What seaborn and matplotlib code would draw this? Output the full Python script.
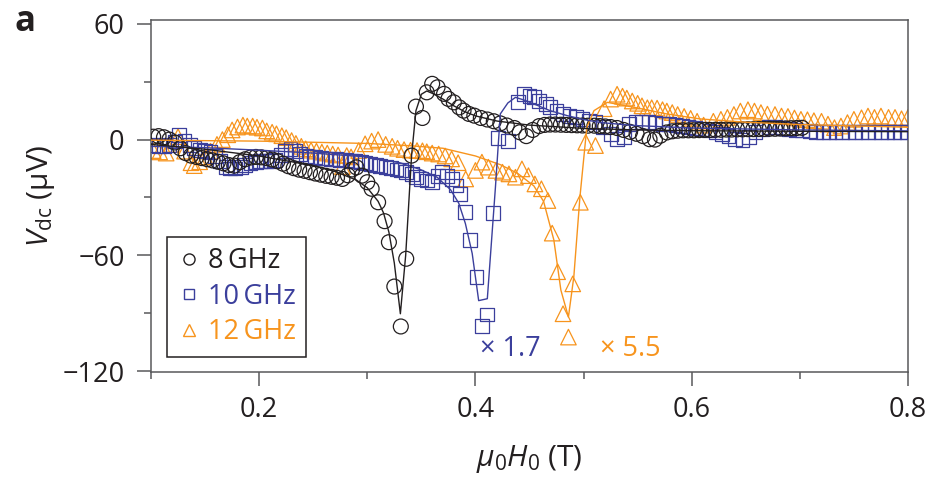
import numpy as np
import pandas as pd
import matplotlib
matplotlib.use("Agg")
import matplotlib.pyplot as plt
from matplotlib.lines import Line2D
from matplotlib.ticker import FixedLocator, MultipleLocator
import seaborn as sns

# ---------------- data ----------------
c8_x = [0.102,0.107,0.112,0.117,0.122,0.127,0.132,0.137,0.142,0.147,
        0.152,0.157,0.162,0.167,0.172,0.177,0.182,0.187,0.192,0.197,
        0.202,0.207,0.212,0.217,0.222,0.227,0.232,0.237,0.242,0.247,
        0.252,0.257,0.262,0.267,0.272,0.277,0.282,0.286,0.290,0.295,
        0.300,0.304,0.310,0.316,0.320,0.325,0.331,0.336,0.341,0.345,
        0.351,0.355,0.360,0.365,0.371,0.375,0.380,0.385,0.389,0.394,
        0.399,0.405,0.411,0.417,0.423,0.429,0.436,0.441,0.447,0.453,
        0.459,0.464,0.469,0.474,0.479,0.484,0.489,0.494,0.499,0.504,
        0.510,0.515,0.520,0.525,0.531,0.537,0.543,0.549,0.555,0.561,
        0.566,0.571,0.577,0.582,0.587,0.592,0.597,0.602,0.607,0.612,
        0.617,0.622,0.627,0.632,0.637,0.642,0.647,0.652,0.657,0.662,
        0.667,0.672,0.677,0.682,0.687,0.692,0.697,0.702]
c8_y = [1.5,1.8,1.2,0.0,-1.5,-4.5,-7.0,-8.3,-9.0,-9.6,
        -10.2,-10.8,-11.5,-12.3,-13.2,-13.5,-11.7,-10.2,-9.3,-9.0,
        -9.2,-9.6,-10.3,-11.2,-12.5,-13.8,-14.8,-15.6,-16.2,-16.9,
        -17.6,-18.2,-18.8,-19.3,-19.8,-20.4,-18.5,-15.5,-14.4,-18.7,
        -22.1,-25.5,-32.5,-42.3,-53.2,-76.2,-96.9,-61.8,-8.3,17.1,
        11.2,24.5,28.9,27.1,23.7,21.1,19.3,16.7,15.0,13.3,
        12.4,11.2,10.4,9.5,8.4,7.3,6.0,3.8,1.8,5.0,
        7.0,7.6,7.8,7.8,7.7,7.6,7.5,7.4,7.3,7.2,
        7.2,7.0,6.8,6.5,6.0,5.0,4.0,3.0,1.8,0.2,
        0.0,2.0,3.7,4.3,4.6,4.8,4.8,4.8,4.9,5.0,
        5.0,5.1,5.1,5.2,5.2,5.3,5.3,5.4,5.4,5.5,
        5.5,5.6,5.6,5.7,5.8,5.9,6.0,6.1]

c10_x = [0.102,0.107,0.112,0.117,0.122,0.126,0.131,0.136,0.140,0.145,
         0.150,0.155,0.159,0.164,0.169,0.173,0.178,0.183,0.187,0.192,
         0.197,0.201,0.206,0.211,0.215,0.220,0.224,0.229,0.233,0.238,
         0.243,0.247,0.252,0.257,0.261,0.266,0.271,0.275,0.280,0.285,
         0.289,0.294,0.298,0.303,0.308,0.312,0.317,0.322,0.327,0.331,
         0.336,0.341,0.345,0.350,0.355,0.360,0.365,0.369,0.374,0.378,
         0.382,0.386,0.390,0.395,0.401,0.406,0.411,0.416,0.421,0.430,
         0.439,0.445,0.450,0.454,0.459,0.465,0.469,0.475,0.481,0.487,
         0.493,0.499,0.505,0.511,0.518,0.525,0.531,0.537,0.542,0.548,
         0.554,0.560,0.566,0.573,0.579,0.585,0.591,0.597,0.603,0.609,
         0.616,0.622,0.628,0.634,0.640,0.647,0.653,0.659,0.665,0.671,
         0.677,0.684,0.690,0.696,0.702,0.709,0.715,0.721,0.727,0.733,
         0.739,0.745,0.751,0.757,0.763,0.769,0.775,0.781,0.787,0.793,0.799]
c10_y = [-3.0,-3.5,-3.5,-3.0,-1.0,2.5,-0.5,-3.0,-4.5,-5.5,
         -6.0,-6.5,-8.3,-11.0,-14.0,-15.0,-15.0,-14.0,-13.0,-12.0,
         -11.5,-11.0,-11.2,-11.0,-10.5,-8.0,-5.7,-4.8,-5.7,-7.4,
         -8.3,-9.0,-9.2,-9.5,-9.8,-10.0,-10.2,-10.4,-10.6,-10.9,
         -11.2,-11.7,-12.2,-12.6,-13.0,-13.5,-14.0,-14.8,-15.5,-16.0,
         -16.9,-18.0,-19.2,-20.4,-21.2,-22.1,-18.7,-16.9,-18.7,-20.4,
         -23.8,-28.1,-37.7,-52.0,-71.3,-96.7,-90.7,-38.0,0.9,-0.9,
         19.3,23.7,22.8,21.9,20.2,18.5,16.7,15.0,13.3,12.4,
         11.6,10.7,9.8,9.0,6.4,3.0,0.4,1.2,8.1,9.0,
         9.0,9.0,8.6,8.3,8.0,7.6,7.0,6.5,6.0,5.5,
         4.7,3.8,3.0,1.8,0.5,0.0,1.5,3.8,5.5,6.4,
         6.4,6.0,5.5,5.0,4.7,4.3,4.0,3.9,3.8,3.8,
         3.8,3.8,3.9,3.9,4.0,4.0,4.0,4.0,4.0,4.0,4.0]

c12_x = [0.102,0.108,0.114,0.119,0.125,0.131,0.137,0.140,0.145,0.150,
         0.155,0.161,0.166,0.171,0.175,0.180,0.185,0.189,0.194,0.198,
         0.203,0.207,0.212,0.216,0.221,0.225,0.230,0.234,0.239,0.243,
         0.248,0.253,0.258,0.263,0.268,0.273,0.277,0.281,0.285,0.292,
         0.298,0.304,0.310,0.317,0.323,0.328,0.334,0.340,0.346,0.351,
         0.355,0.360,0.366,0.372,0.378,0.384,0.391,0.400,0.406,0.412,
         0.419,0.425,0.431,0.437,0.443,0.449,0.455,0.461,0.467,0.471,
         0.476,0.481,0.486,0.490,0.497,0.502,0.511,0.519,0.525,0.531,
         0.536,0.540,0.545,0.550,0.554,0.559,0.563,0.568,0.573,0.577,
         0.582,0.587,0.593,0.599,0.605,0.611,0.620,0.627,0.633,0.639,
         0.645,0.652,0.658,0.664,0.670,0.677,0.683,0.689,0.695,0.701,
         0.707,0.713,0.720,0.726,0.732,0.738,0.744,0.750,0.757,0.763,
         0.769,0.775,0.782,0.788,0.794,0.800]
c12_y = [-5.7,-6.4,-7.0,-2.5,1.5,-6.0,-12.0,-13.5,-11.5,-9.0,
         -6.0,-2.5,0.0,2.5,5.0,6.5,7.5,7.0,7.0,6.4,
         6.0,4.5,3.8,3.0,2.0,1.0,-0.5,-2.0,-3.5,-4.8,
         -5.5,-6.0,-6.5,-7.0,-7.5,-8.0,-14.0,-8.3,-9.0,-5.7,
         -2.2,-0.8,0.0,-2.5,-3.5,-4.5,-5.2,-5.5,-5.7,-5.8,
         -6.3,-7.0,-7.5,-8.5,-10.0,-12.0,-20.4,-16.0,-11.7,-14.3,
         -16.0,-16.9,-17.8,-19.5,-15.2,-18.7,-23.0,-25.5,-31.6,-48.5,
         -68.5,-90.3,-102.4,-74.8,-32.5,-1.4,-3.1,16.0,21.0,23.5,
         22.5,21.5,20.0,18.8,17.5,16.5,16.5,16.3,15.5,14.8,
         14.0,13.0,12.0,11.0,9.5,7.5,9.5,10.5,11.5,13.0,
         14.8,15.5,14.8,14.0,13.2,13.0,12.2,12.0,11.2,10.5,
         10.3,9.8,9.5,8.0,6.2,7.0,8.8,10.5,11.3,12.2,
         11.5,12.2,11.5,11.5,10.8,11.5]

# fitted curves
f8_x = [0.10,0.15,0.20,0.25,0.27,0.29,0.30,0.31,0.315,0.320,0.325,0.3306,
        0.3355,0.341,0.345,0.350,0.355,0.360,0.370,0.380,0.390,0.400,0.420,
        0.450,0.500,0.550,0.600,0.700,0.800]
f8_y = [-2.5,-5.0,-8.5,-13.5,-16.5,-21.0,-25.0,-32.0,-38.0,-48.0,-64.0,-90.3,
        -60.0,-8.0,15.0,23.5,25.2,24.0,21.0,17.5,14.5,12.3,9.6,
        7.5,5.8,5.0,4.6,4.3,4.1]
f10_x = [0.10,0.15,0.20,0.25,0.30,0.33,0.349,0.3645,0.377,0.3846,0.3907,0.397,
         0.403,0.411,0.4185,0.423,0.430,0.437,0.445,0.454,0.469,0.485,0.500,
         0.516,0.547,0.600,0.700,0.800]
f10_y = [-3.5,-4.2,-5.5,-7.0,-9.0,-12.0,-15.5,-19.5,-26.0,-33.0,-43.5,-59.0,
         -83.5,-82.5,-24.7,13.3,19.0,21.9,20.5,18.5,15.0,12.4,10.4,
         8.8,7.3,6.0,5.0,4.5]
f12_x = [0.10,0.20,0.30,0.34,0.37,0.40,0.423,0.439,0.454,0.463,0.4725,0.479,
         0.486,0.491,0.4966,0.503,0.5096,0.522,0.547,0.577,0.608,0.650,0.700,0.800]
f12_y = [-0.3,-0.8,-2.0,-3.2,-4.5,-8.5,-13.0,-17.5,-24.0,-32.0,-52.0,-78.0,
         -92.0,-71.0,-30.0,6.4,15.0,19.3,16.7,13.3,10.7,9.0,7.8,6.4]

series_labels = ["8\u2009GHz", "10\u2009GHz", "12\u2009GHz"]
scale_labels = ["\u00d7 1.7", "\u00d7 5.5"]
x_ticks = [0.2, 0.4, 0.6, 0.8]
y_ticks = [60, 0, -60, -120]

# ---------------- style ----------------
sns.set_style("ticks")
plt.rcParams["font.family"] = ["Open Sans", "DejaVu Sans"]
plt.rcParams["mathtext.fontset"] = "custom"
plt.rcParams["mathtext.rm"] = "Open Sans"
plt.rcParams["mathtext.it"] = "Open Sans:italic"
plt.rcParams["mathtext.bf"] = "Open Sans:bold"
plt.rcParams["axes.unicode_minus"] = True

TXT = "#231f20"
AX = "#58595b"
BLACK = "#231f20"
BLUE = "#3b3f9c"
ORANGE = "#f7941d"
FS = 19.5
LFS = 21.5

fig = plt.figure(figsize=(9.39, 4.83), dpi=100)
ax = fig.add_axes([151/939, 1-372/483, (908-151)/939, (372-20)/483])

df8 = pd.DataFrame({"x": c8_x, "y": c8_y})
df10 = pd.DataFrame({"x": c10_x, "y": c10_y})
df12 = pd.DataFrame({"x": c12_x, "y": c12_y})

sns.scatterplot(data=df12, x="x", y="y", marker="^", s=125, fc="none",
                ec=ORANGE, linewidth=0.9, ax=ax, zorder=2)
sns.scatterplot(data=df10, x="x", y="y", marker="s", s=100, fc="none",
                ec=BLUE, linewidth=0.9, ax=ax, zorder=3)
sns.scatterplot(data=df8, x="x", y="y", marker="o", s=115, fc="none",
                ec=BLACK, linewidth=0.9, ax=ax, zorder=4)

sns.lineplot(x=f12_x, y=f12_y, color=ORANGE, lw=1.0, sort=False,
             estimator=None, ax=ax, zorder=5)
sns.lineplot(x=f10_x, y=f10_y, color=BLUE, lw=1.0, sort=False,
             estimator=None, ax=ax, zorder=5)
sns.lineplot(x=f8_x, y=f8_y, color=BLACK, lw=1.0, sort=False,
             estimator=None, ax=ax, zorder=5)

ax.set_xlim(0.1, 0.8)
ax.set_ylim(-120.5, 62)
ax.xaxis.set_major_locator(FixedLocator(x_ticks))
ax.xaxis.set_minor_locator(MultipleLocator(0.1))
ax.yaxis.set_major_locator(FixedLocator(y_ticks))
ax.yaxis.set_minor_locator(MultipleLocator(30))
ax.set_xticklabels([f"{v:.1f}" for v in x_ticks])
ax.set_yticklabels([f"{v}".replace("-", "\u2212") for v in y_ticks])

ax.tick_params(which="major", direction="out", length=10, width=1.1,
               color=AX, labelsize=FS, labelcolor=TXT, pad=7)
ax.tick_params(which="minor", direction="out", length=5, width=1.1, color=AX)
ax.tick_params(axis="y", which="major", pad=9)
for s in ax.spines.values():
    s.set_color(AX)
    s.set_linewidth(1.1)
    s.set_visible(True)

ax.set_xlabel(r"$\mu_0H_0$ (T)", fontsize=LFS, color=TXT, labelpad=14)
ax.set_ylabel("$V_{\\mathrm{dc}}$ (\u00b5V)", fontsize=LFS, color=TXT,
              labelpad=4)

handles = [
    Line2D([0], [0], marker="o", ls="none", mfc="none", mec=BLACK, mew=1.0, ms=8),
    Line2D([0], [0], marker="s", ls="none", mfc="none", mec=BLUE, mew=1.0, ms=7),
    Line2D([0], [0], marker="^", ls="none", mfc="none", mec=ORANGE, mew=1.0, ms=9),
]
leg = ax.legend(handles, series_labels, loc="lower left",
                bbox_to_anchor=(0.021, 0.043), borderaxespad=0,
                prop={"size": FS}, labelcolor=[BLACK, BLUE, ORANGE],
                handlelength=0.8, handletextpad=0.3, borderpad=0.4,
                labelspacing=0.27, frameon=True, fancybox=False,
                framealpha=1, edgecolor=TXT)
leg.get_frame().set_linewidth(1.1)

ax.text(0.432, -108.8, scale_labels[0], color=BLUE, fontsize=FS,
        ha="center", va="center")
ax.text(0.5435, -108.8, scale_labels[1], color=ORANGE, fontsize=FS,
        ha="center", va="center")

fig.text(25/939, 1-22/483, "a", fontsize=25, fontweight="bold",
         color=TXT, ha="center", va="center")

fig.savefig("out.png", dpi=100)
